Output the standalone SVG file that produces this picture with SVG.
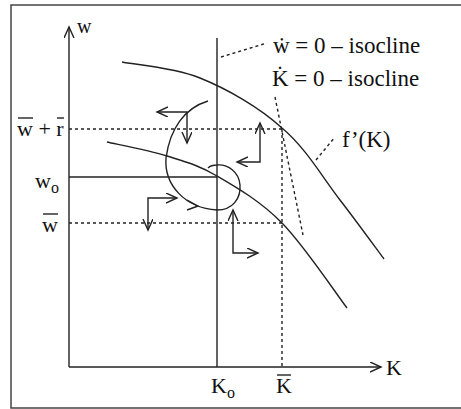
<svg xmlns="http://www.w3.org/2000/svg" width="461" height="409" viewBox="0 0 461 409">
<style>
.ln{fill:none;stroke:#222;stroke-width:1.4}
.dt{fill:none;stroke:#222;stroke-width:1.4;stroke-dasharray:3 3}
.ah{fill:none;stroke:#222;stroke-width:1.4;stroke-linejoin:miter}
.bar{stroke:#111;stroke-width:1.3}
text{font-family:"Liberation Serif","Times New Roman",serif;fill:#111;font-size:22px}
</style>
<defs>
<marker id="open" markerWidth="14" markerHeight="12" refX="11" refY="5" orient="auto-start-reverse" markerUnits="userSpaceOnUse">
<path d="M0,0 L11,5 L0,10" fill="none" stroke="#222" stroke-width="1.4"/>
</marker>
</defs>
<rect x="11" y="5" width="460" height="403" fill="none" stroke="#444" stroke-width="1.5"/>
<g id="axes">
<line class="ln" x1="69" y1="367" x2="69" y2="27" marker-end="url(#open)"/>
<line class="ln" x1="69" y1="367" x2="381" y2="367" marker-end="url(#open)"/>
</g>
<g id="connectors">
<line class="ln" x1="217" y1="38" x2="217" y2="367"/>
<line class="ln" x1="69" y1="177" x2="217" y2="177"/>
<line class="dt" x1="69" y1="129" x2="282" y2="129"/>
<line class="dt" x1="69" y1="223" x2="282" y2="223"/>
<line class="dt" x1="282" y1="129" x2="282" y2="367"/>
<line class="dt" x1="275" y1="97" x2="303" y2="235"/>
<line class="dt" x1="221" y1="57" x2="267" y2="43"/>
<line class="dt" x1="316" y1="160" x2="335" y2="137"/>
<path class="ln" d="M122,62 C135,64.7 173.3,67.2 200,78 C226.7,88.8 258.7,106.7 282,128 C305.3,147.3 323,178 340,200 C357,222 376.7,249.2 384,259"/>
<path class="ln" d="M107,142 C117,144.3 148.7,150.3 167,156 C185.3,161.7 197.8,164.8 217,176 C236.2,187.2 260.3,201 282,223 C303.7,245 336.2,293.8 347,308"/>
<path class="ln" d="M208,101 C185,108 170,128 166,158 C164,185 185,208 217,210 C233,210 241,198 240,185 C239,172 228,164 217,165 C213,165 210,166 208,168"/>
<polyline class="ah" points="187,200 198,206 187,210"/>
<polyline class="ln" points="157,112 187,112 187,143" marker-start="url(#open)" marker-end="url(#open)"/>
<polyline class="ln" points="260,123 260,162 237,162" marker-start="url(#open)" marker-end="url(#open)"/>
<polyline class="ln" points="177,198 148,198 148,230" marker-start="url(#open)" marker-end="url(#open)"/>
<polyline class="ln" points="233,210 233,253 258,253" marker-start="url(#open)" marker-end="url(#open)"/>
</g>
<g id="labels">
<text x="77" y="33" style="font-size:20px">w</text>
<text x="17" y="136">w + r</text>
<line class="bar" x1="18" y1="118" x2="33" y2="118"/>
<line class="bar" x1="57" y1="118" x2="64" y2="118"/>
<text x="35" y="188">w<tspan dy="5" style="font-size:16px">o</tspan></text>
<text x="42" y="232">w</text>
<line class="bar" x1="43" y1="214" x2="58" y2="214"/>
<text x="211" y="393">K<tspan dy="5" style="font-size:16px">o</tspan></text>
<text x="276" y="393">K</text>
<line class="bar" x1="277" y1="375" x2="291" y2="375"/>
<text x="386" y="375">K</text>
<text x="273" y="53" style="font-size:23px">ẇ = 0 – isocline</text>
<text x="272" y="86" style="font-size:23px">K̇ = 0 – isocline</text>
<text x="342" y="147" style="font-size:23px">f’(K)</text>
</g>
</svg>
